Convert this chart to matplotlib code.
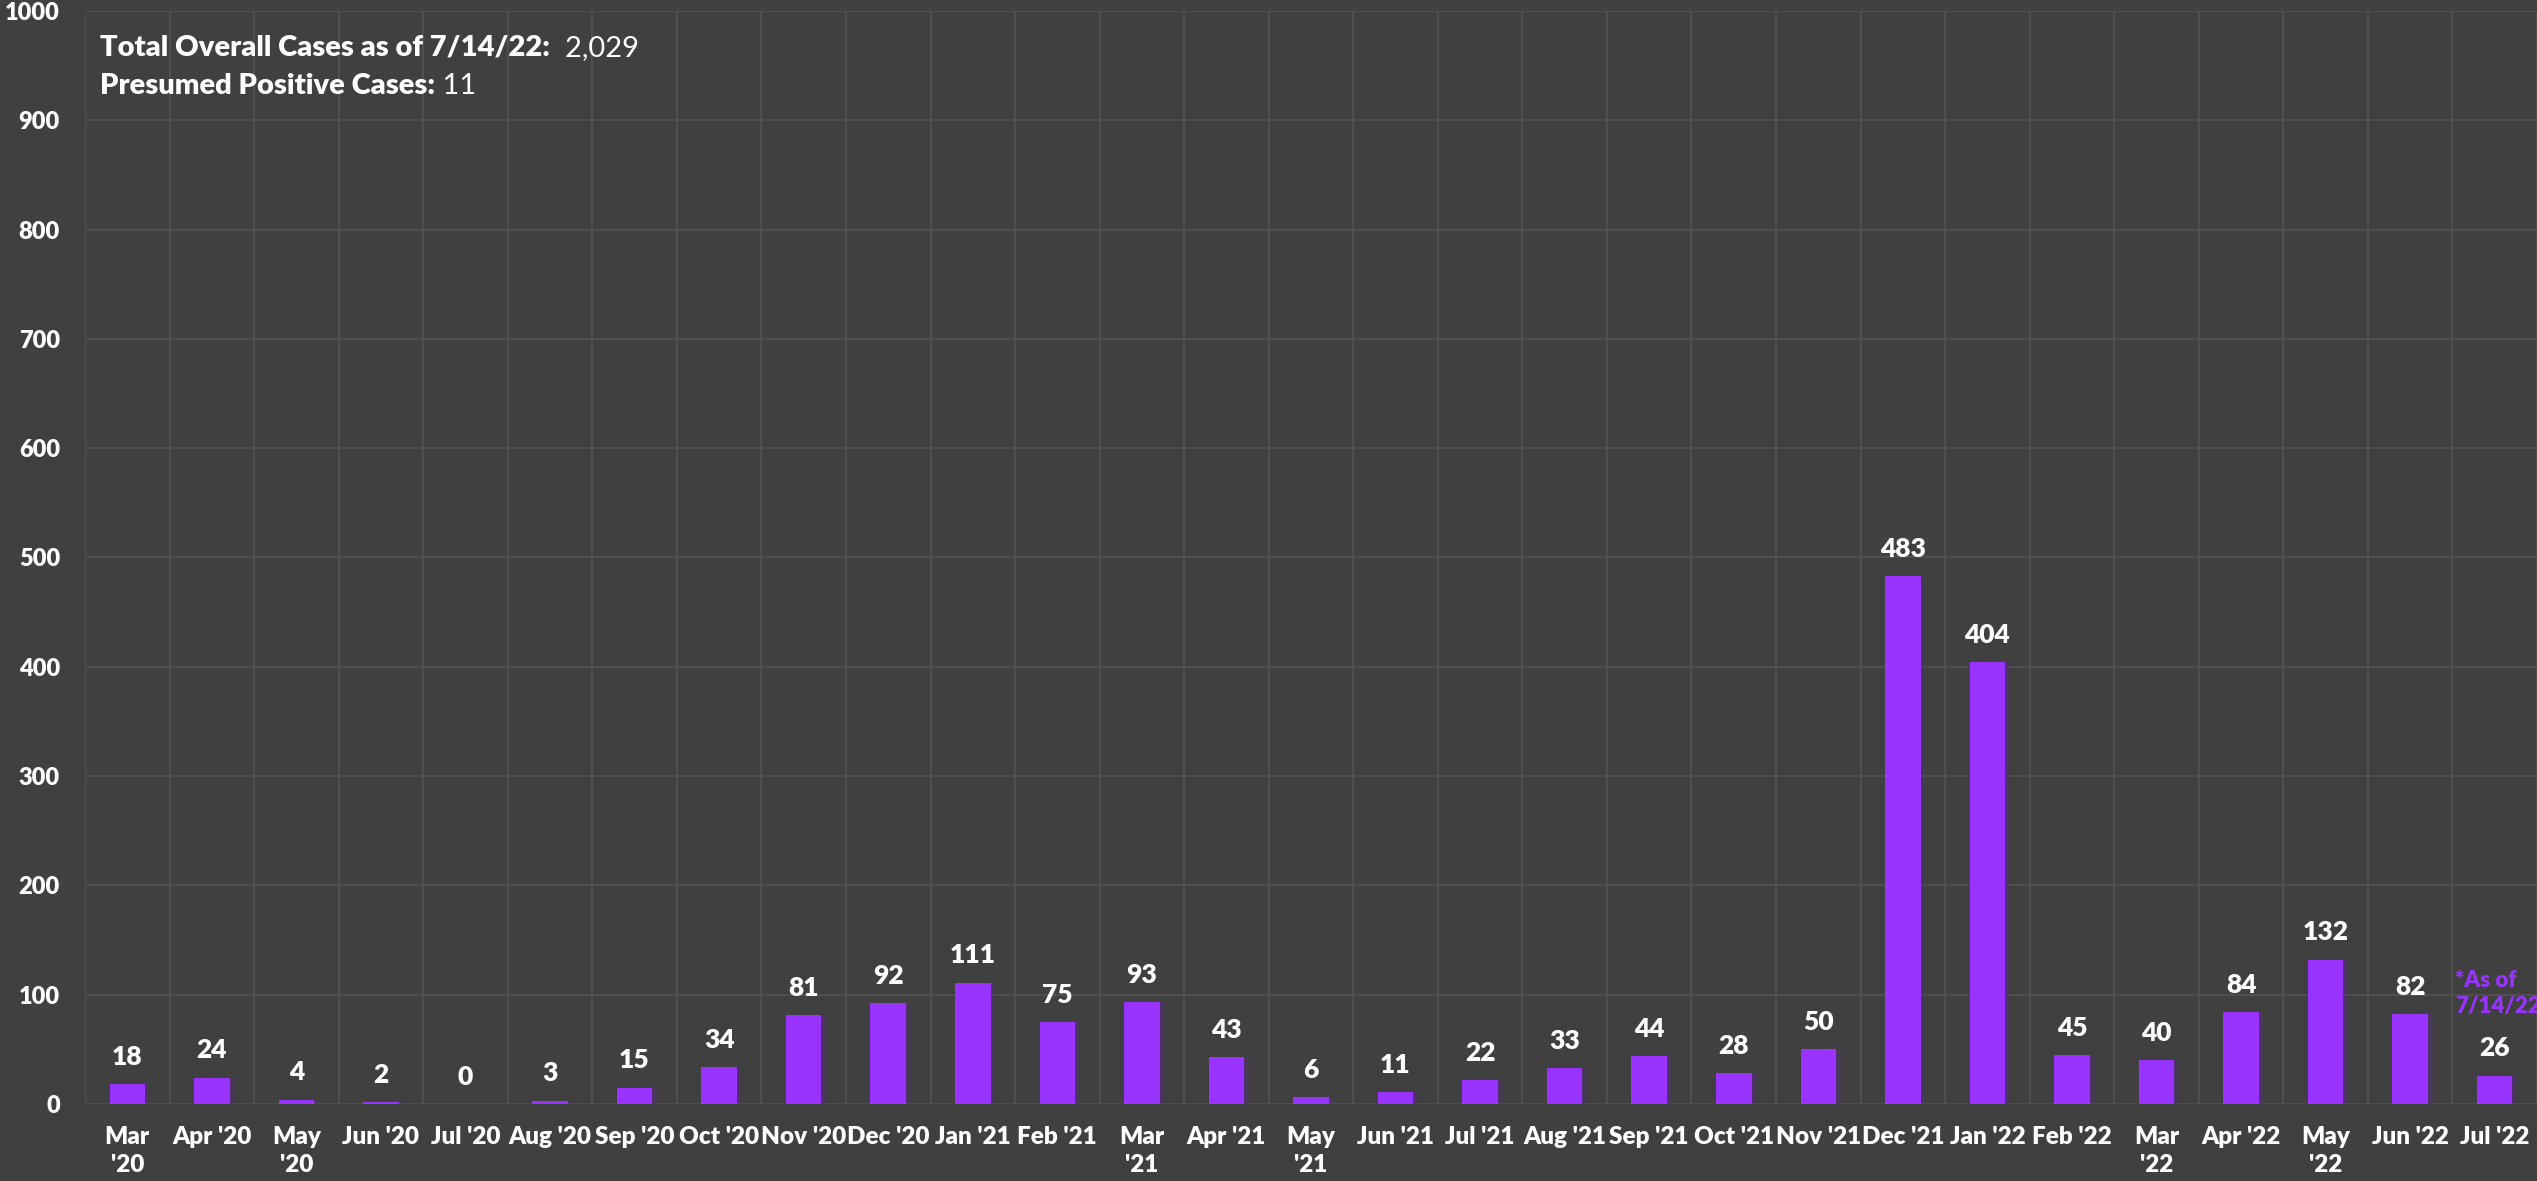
import numpy as np
import matplotlib
matplotlib.use('Agg')
import matplotlib.pyplot as plt

months = ["Mar\n'20", "Apr '20", "May\n'20", "Jun '20", "Jul '20", "Aug '20", "Sep '20", "Oct '20",
          "Nov '20", "Dec '20", "Jan '21", "Feb '21", "Mar\n'21", "Apr '21", "May\n'21", "Jun '21",
          "Jul '21", "Aug '21", "Sep '21", "Oct '21", "Nov '21", "Dec '21", "Jan '22", "Feb '22",
          "Mar\n'22", "Apr '22", "May\n'22", "Jun '22", "Jul '22"]
cases = [18, 24, 4, 2, 0, 3, 15, 34, 81, 92, 111, 75, 93, 43, 6, 11, 22, 33, 44, 28, 50,
         483, 404, 45, 40, 84, 132, 82, 26]
total_cases = "2,029"
presumed = "11"
as_of = "7/14/22"

bg = '#404040'
purple = '#9933ff'

plt.rcParams['font.family'] = ['Lato', 'DejaVu Sans']
wt = 'heavy'

fig = plt.figure(figsize=(25.37, 11.81), dpi=100, facecolor=bg)
ax = fig.add_axes([0.0335, 0.0652, 0.9665, 0.9255])
ax.set_facecolor(bg)

x = np.arange(len(cases))
w = 0.42
# soft shadow to the right of each bar
for off, a in [(0.06, 0.10), (0.04, 0.15), (0.02, 0.25)]:
    ax.bar(x + off, cases, w, color='#6a1fb0', alpha=a, zorder=2, linewidth=0)
bars = ax.bar(x, cases, w, color=purple, zorder=3, linewidth=0)
ax.bar_label(bars, padding=11, color='white', fontsize=19, fontweight=wt)

ax.set_xlim(-0.5, len(cases) - 0.5)
ax.set_ylim(0, 1000)
ax.set_yticks(np.arange(0, 1001, 100))
ax.set_xticks(x, months)
ax.set_xticks(np.arange(-0.5, len(cases), 1), minor=True)
ax.grid(axis='y', color='#4f4f4f', linewidth=1.5, zorder=0)
ax.grid(axis='x', which='minor', color='#4f4f4f', linewidth=1.5, zorder=0)
ax.tick_params(axis='both', which='both', length=0, colors='white', labelsize=17)
ax.tick_params(axis='y', pad=18)
ax.tick_params(axis='x', pad=16, labelsize=17.5)
for lab in ax.get_xticklabels() + ax.get_yticklabels():
    lab.set_fontweight(wt)
    lab.set_linespacing(1.3)
for s in ax.spines.values():
    s.set_visible(False)

t1 = ax.text(0.006, 0.959, "Total Overall Cases as of 7/14/22:", transform=ax.transAxes,
             color='white', fontsize=21, fontweight=wt, va='baseline')
ax.annotate("  " + total_cases, xy=(1, 0), xycoords=t1, va='bottom', color='white', fontsize=21)
t2 = ax.text(0.006, 0.924, "Presumed Positive Cases:", transform=ax.transAxes,
             color='white', fontsize=21, fontweight=wt, va='baseline')
ax.annotate(" " + presumed, xy=(1, 0), xycoords=t2, va='bottom', color='white', fontsize=21)

ax.text(len(cases) - 1.47, 80, "*As of\n" + as_of, color=purple, fontsize=16,
        fontweight=wt, ha='left', va='bottom', linespacing=1.25, clip_on=False)

fig.savefig('out.png', dpi=100, facecolor=bg)
